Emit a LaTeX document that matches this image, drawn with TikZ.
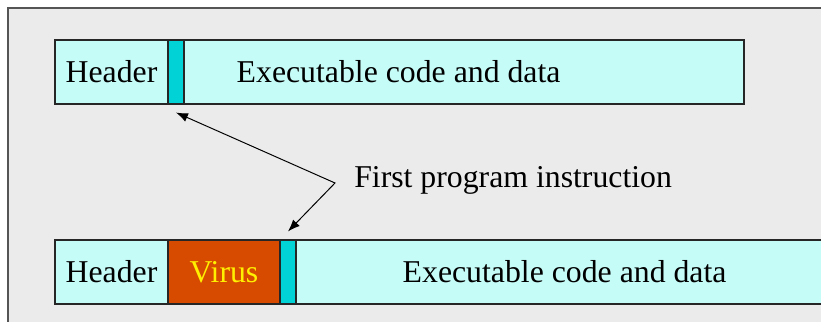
\documentclass[tikz,border=0pt]{standalone}
\usepackage{fontspec}
\setmainfont{Liberation Serif}
\usetikzlibrary{arrows.meta,positioning}
\definecolor{bggray}{RGB}{235,235,235}
\definecolor{framegray}{RGB}{85,85,85}
\definecolor{cellcyan}{RGB}{198,252,248}
\definecolor{stripcyan}{RGB}{0,210,214}
\definecolor{virusred}{RGB}{214,75,0}
\definecolor{virustext}{RGB}{255,240,0}
\begin{document}
\begin{tikzpicture}[
    >={Latex[length=8.5pt,width=6.5pt]},
    cell/.style={
      draw=black!85,line width=0.8pt,fill=cellcyan,
      minimum height=1.6cm,inner sep=0pt,
      font=\fontsize{22.6}{27}\selectfont
    },
    txt/.style={inner sep=0pt,font=\fontsize{22.6}{27}\selectfont},
  ]
  \useasboundingbox (0,0) rectangle (20.525,8.025);
  \draw[line width=1.4pt,draw=framegray,fill=bggray] (0.2,-1) rectangle (21.5,7.825);
  % clean program
  \node[cell,minimum width=2.825cm] (h1) at (2.7875,6.225) {Header};
  \node[cell,minimum width=0.4cm,fill=stripcyan] (s1) at (4.4,6.225) {};
  \node[cell,minimum width=14cm] (c1) at (11.6,6.225) {};
  \node[txt,right=1.325cm of c1.west] (t1) {Executable code and data};
  % infected program
  \node[cell,minimum width=2.825cm] (h2) at (2.7875,1.225) {Header};
  \node[cell,minimum width=2.8cm,fill=virusred,text=virustext] (v) at (5.6,1.225) {Virus};
  \node[cell,minimum width=0.4cm,fill=stripcyan] (s2) at (7.2,1.225) {};
  \node[cell,minimum width=13.35cm] (c2) at (14.075,1.225) {};
  \node[txt,right=2.675cm of c2.west] (t2) {Executable code and data};
  % pointer
  \coordinate (bend) at (8.375,3.45);
  \draw[<->,line width=0.7pt] ([yshift=-0.2cm]s1.south) -- (bend) -- ([yshift=0.2cm]s2.north);
  \node[txt,anchor=base west] (instr) at (8.85,3.325) {First program instruction};
\end{tikzpicture}
\end{document}
